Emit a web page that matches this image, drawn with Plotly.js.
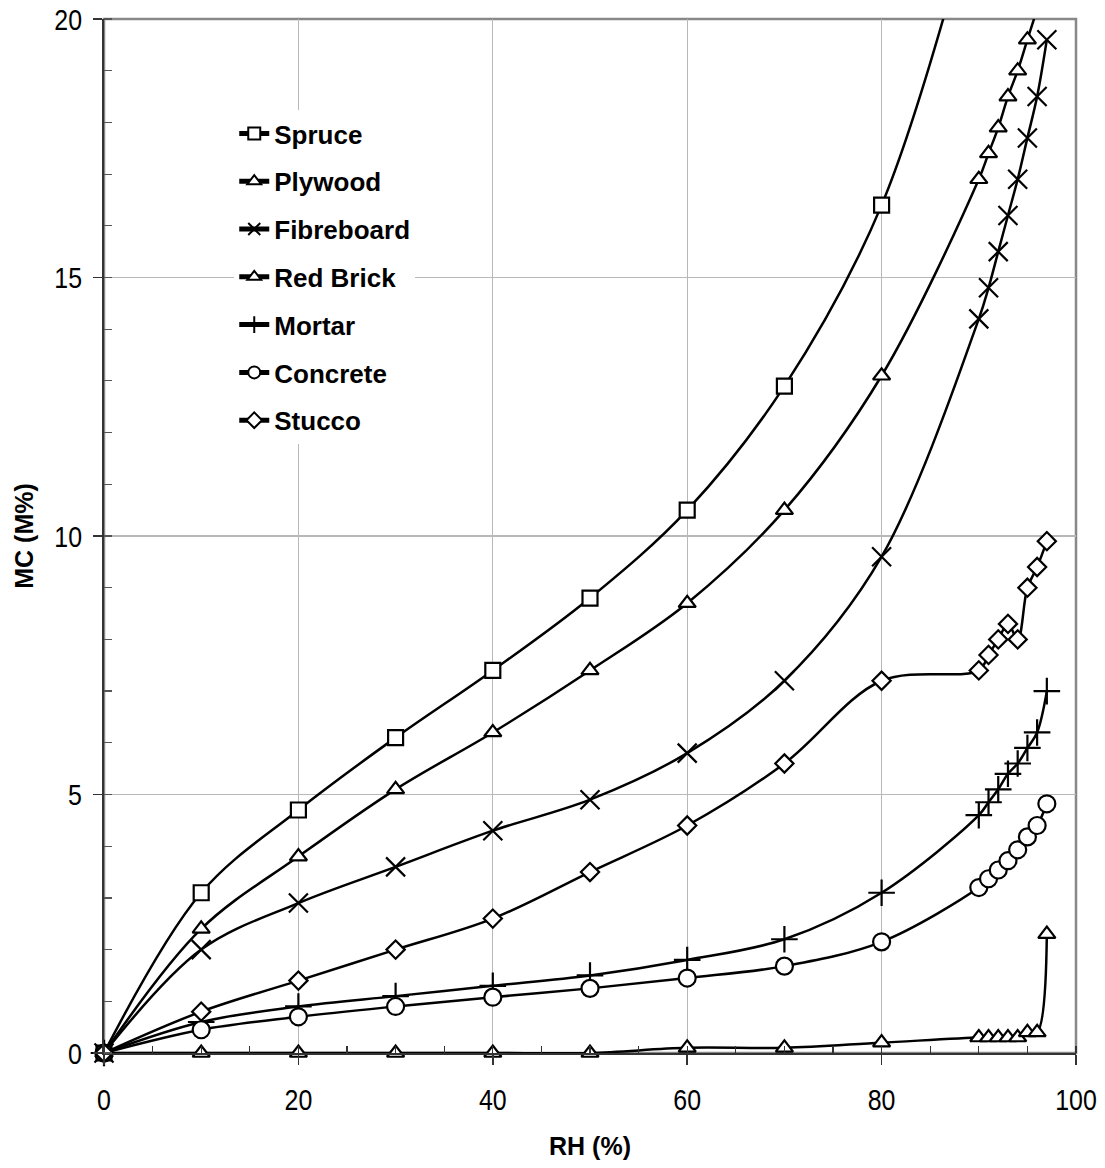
<!DOCTYPE html>
<html>
<head>
<meta charset="utf-8">
<script src="https://cdn.plot.ly/plotly-3.0.1.min.js"></script>
<style>html,body{margin:0;padding:0;background:#fff;}#chart{width:1105px;height:1168px;}</style>
</head>
<body>
<div id="chart"></div>
<script>
// Moisture content (M%) series vs relative humidity (%)
const spruceRH = [0, 10, 20, 30, 40, 50, 60, 70, 80, 90];
const spruce = [0, 3.1, 4.7, 6.1, 7.4, 8.8, 10.5, 12.9, 16.4, 22.5];

const plywoodRH = [0, 10, 20, 30, 40, 50, 60, 70, 80, 90, 91, 92, 93, 94, 95, 96, 97];
const plywood = [0, 2.4, 3.8, 5.1, 6.2, 7.4, 8.7, 10.5, 13.1, 16.9, 17.4, 17.9, 18.5, 19.0, 19.6, 20.2, 20.9];

const fibreRH = [0, 10, 20, 30, 40, 50, 60, 70, 80, 90, 91, 92, 93, 94, 95, 96, 97];
const fibreboard = [0, 2.0, 2.9, 3.6, 4.3, 4.9, 5.8, 7.2, 9.6, 14.2, 14.8, 15.5, 16.2, 16.9, 17.7, 18.5, 19.6];

const brickRH = [0, 10, 20, 30, 40, 50, 60, 70, 80, 90, 91, 92, 93, 94, 95, 96, 97];
const redBrick = [0, 0, 0, 0, 0, 0, 0.1, 0.1, 0.2, 0.3, 0.3, 0.3, 0.3, 0.3, 0.4, 0.4, 2.3];

const mortarRH = [0, 10, 20, 30, 40, 50, 60, 70, 80, 90, 91, 92, 93, 94, 95, 96, 97];
const mortar = [0, 0.6, 0.9, 1.1, 1.3, 1.5, 1.8, 2.2, 3.1, 4.6, 4.85, 5.1, 5.4, 5.6, 5.9, 6.2, 7.0];

const concreteRH = [0, 10, 20, 30, 40, 50, 60, 70, 80, 90, 91, 92, 93, 94, 95, 96, 97];
const concrete = [0, 0.45, 0.7, 0.9, 1.08, 1.25, 1.45, 1.68, 2.15, 3.2, 3.37, 3.54, 3.72, 3.93, 4.18, 4.4, 4.82];

const stuccoRH = [0, 10, 20, 30, 40, 50, 60, 70, 80, 90, 91, 92, 93, 94, 95, 96, 97];
const stucco = [0, 0.8, 1.4, 2.0, 2.6, 3.5, 4.4, 5.6, 7.2, 7.4, 7.7, 8.0, 8.3, 8.0, 9.0, 9.4, 9.9];

const seriesNames = ['Spruce', 'Plywood', 'Fibreboard', 'Red Brick', 'Mortar', 'Concrete', 'Stucco'];
const xTickVals = [0, 20, 40, 60, 80, 100];
const yTickVals = [0, 5, 10, 15, 20];

const specs = [
  {x: spruceRH, y: spruce, symbol: 'square', size: 15, fill: '#fff'},
  {x: plywoodRH, y: plywood, symbol: 'triangle-up', size: 15, fill: '#fff'},
  {x: fibreRH, y: fibreboard, symbol: 'x-thin-open', size: 19, fill: '#000'},
  {x: brickRH, y: redBrick, symbol: 'triangle-up', size: 15, fill: '#fff'},
  {x: mortarRH, y: mortar, symbol: 'cross-thin-open', size: 19, fill: '#000'},
  {x: concreteRH, y: concrete, symbol: 'circle', size: 17, fill: '#fff'},
  {x: stuccoRH, y: stucco, symbol: 'diamond', size: 14, fill: '#fff'}
];

const traces = specs.map((s, i) => ({
  type: 'scatter',
  mode: 'lines+markers',
  name: seriesNames[i],
  legendgroup: 'g' + i,
  x: s.x,
  y: s.y,
  cliponaxis: false,
  line: {color: '#000', width: 2.5, shape: 'spline', smoothing: 1},
  marker: {symbol: s.symbol, size: s.size, color: s.fill, line: {color: '#000', width: 2.2}}
}));

const tickFont = {family: 'Liberation Sans, Arial, sans-serif', size: 30, color: '#000'};
const titleFont = {family: 'Liberation Sans, Arial, sans-serif', size: 25, color: '#000', weight: 'bold'};

const layout = {
  width: 1105,
  height: 1168,
  margin: {l: 104, r: 29, t: 19, b: 115},
  paper_bgcolor: '#fff',
  plot_bgcolor: '#fff',
  showlegend: true,
  legend: {
    x: 0.134, y: 0.912, xanchor: 'left', yanchor: 'top',
    bgcolor: '#fff', borderwidth: 0,
    font: {family: 'Liberation Sans, Arial, sans-serif', size: 26, color: '#000', weight: 'bold'},
    tracegroupgap: 11,
    traceorder: 'grouped',
    itemsizing: 'constant'
  },
  xaxis: {
    range: [0, 100],
    tickvals: xTickVals,
    ticks: 'outside', ticklen: 10, tickwidth: 1.5, tickcolor: '#333',
    tickfont: tickFont,
    ticklabelstandoff: 9,
    showline: true, linecolor: '#333', linewidth: 2,
    showgrid: true, gridcolor: '#b8b8b8', gridwidth: 1.2,
    zeroline: false,
    minor: {dtick: 5, ticks: 'inside', ticklen: 7, tickwidth: 1.2, tickcolor: '#333', showgrid: false},
    title: {text: 'RH (%)', font: titleFont, standoff: 22}
  },
  yaxis: {
    range: [0, 20],
    tickvals: yTickVals,
    ticks: 'outside', ticklen: 9, tickwidth: 1.5, tickcolor: '#333',
    tickfont: tickFont,
    ticklabelstandoff: 5,
    showline: true, linecolor: '#333', linewidth: 2,
    showgrid: true, gridcolor: '#b8b8b8', gridwidth: 1.2,
    zeroline: false,
    minor: {dtick: 1, ticks: 'inside', ticklen: 8, tickwidth: 1.2, tickcolor: '#555', showgrid: false},
    title: {text: 'MC (M%)', font: titleFont, standoff: 8}
  },
  shapes: [{
    type: 'rect', xref: 'paper', yref: 'paper', x0: 0, x1: 1, y0: 0, y1: 1,
    line: {color: '#888', width: 2.5}, layer: 'below'
  }]
};

Plotly.newPlot('chart', traces, layout, {staticPlot: true}).then(gd => {
  // narrow the tick label glyphs to mimic the condensed face of the original
  gd.querySelectorAll('.xtick text, .ytick text').forEach(t => {
    const w = t.getComputedTextLength();
    t.setAttribute('textLength', (w * 0.83).toFixed(1));
    t.setAttribute('lengthAdjust', 'spacingAndGlyphs');
  });
});
</script>
</body>
</html>
